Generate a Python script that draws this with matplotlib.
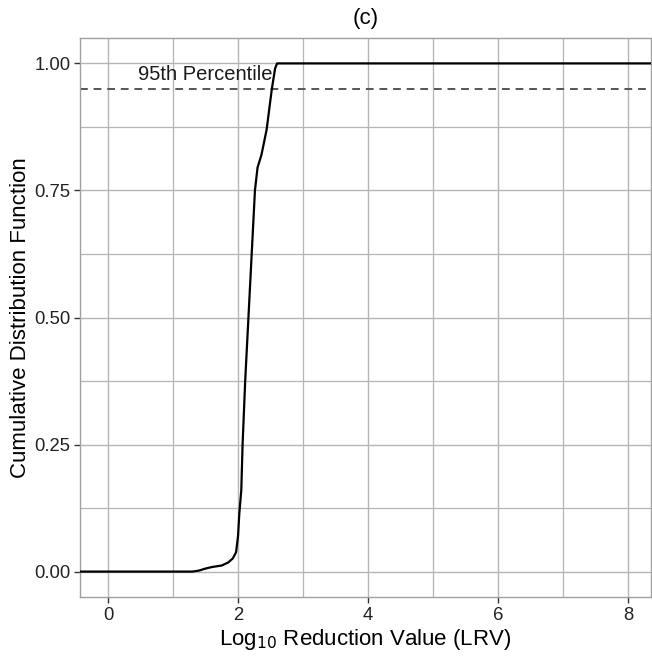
import numpy as np
import matplotlib
matplotlib.use("Agg")
import matplotlib.pyplot as plt

plt.rcParams['font.family'] = ['Liberation Sans', 'DejaVu Sans']

# ECDF (LRV, cumulative probability)
lrv = [-0.5, 1.30, 1.40, 1.50, 1.60, 1.75, 1.85, 1.92, 1.97, 2.00, 2.02,
       2.05, 2.07, 2.11, 2.16, 2.21, 2.26, 2.30, 2.36, 2.44, 2.52, 2.57, 2.60, 9.0]
cdf = [0.0, 0.0, 0.002, 0.006, 0.009, 0.012, 0.018, 0.026, 0.038, 0.07, 0.115,
       0.16, 0.25, 0.375, 0.50, 0.625, 0.75, 0.795, 0.82, 0.87, 0.95, 0.99, 1.0, 1.0]
pct_level = 0.95
pct_label = "95th Percentile"

grid_col = '#B5B5B5'

fig = plt.figure(figsize=(6.52, 6.57), dpi=100)
ax = fig.add_axes([80/652, 60/657, 571/652, 559/657])

ax.plot(lrv, cdf, color='black', lw=1.6, solid_joinstyle='round', zorder=3)
ax.axhline(pct_level, color='#555555', lw=1.4, ls=(0, (4, 3)), zorder=2)
ax.text(1.49, 0.978, pct_label, ha='center', va='center', fontsize=14.5,
        color='#1a1a1a', zorder=4)

ax.set_xlim(-0.43, 8.35)
ax.set_ylim(-0.05, 1.05)
ax.set_xticks([0, 2, 4, 6, 8])
ax.set_xticks([1, 3, 5, 7], minor=True)
ax.set_yticks([0, 0.25, 0.5, 0.75, 1.0])
ax.set_yticks([0.125, 0.375, 0.625, 0.875], minor=True)
ax.set_yticklabels(['0.00', '0.25', '0.50', '0.75', '1.00'])

ax.grid(True, which='major', color=grid_col, lw=1.0, zorder=0)
ax.grid(True, which='minor', color=grid_col, lw=0.9, zorder=0)
ax.set_axisbelow(True)
for s in ax.spines.values():
    s.set_color('#A0A0A0')
    s.set_linewidth(1.0)
ax.tick_params(which='major', length=4, width=1.0, color='#333333', labelsize=13.3,
               labelcolor='#222222', pad=3)
ax.tick_params(which='minor', length=0)

ax.set_xlabel('Log$_{10}$ Reduction Value (LRV)', fontsize=16, labelpad=2)
ax.set_ylabel('Cumulative Distribution Function', fontsize=16, labelpad=2)
ax.set_title('(c)', fontsize=16, pad=10)

fig.savefig('out.png', dpi=100)
